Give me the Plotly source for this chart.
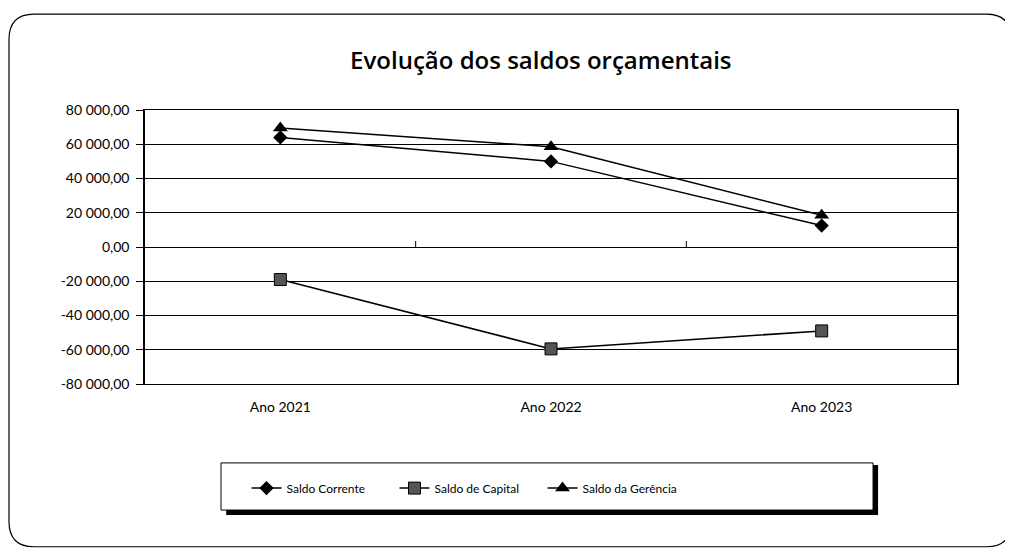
import plotly.graph_objects as go

# === Data ===
anos = ["Ano 2021", "Ano 2022", "Ano 2023"]
saldo_corrente = [64000, 50000, 12500]
saldo_capital = [-19000, -59500, -49000]
saldo_gerencia = [69500, 58500, 18500]

y_ticks = [80000, 60000, 40000, 20000, 0, -20000, -40000, -60000, -80000]
y_tick_text = ["80 000,00", "60 000,00", "40 000,00", "20 000,00", "0,00",
               "-20 000,00", "-40 000,00", "-60 000,00", "-80 000,00"]

FONT = "Lato"

fig = go.Figure()

fig.add_trace(go.Scatter(
    x=anos, y=saldo_corrente, name="Saldo Corrente",
    mode="lines+markers",
    line=dict(color="black", width=1.5),
    marker=dict(symbol="diamond", size=11, color="black")
))
fig.add_trace(go.Scatter(
    x=anos, y=saldo_capital, name="Saldo de Capital",
    mode="lines+markers",
    line=dict(color="black", width=1.5),
    marker=dict(symbol="square", size=12, color="#555555",
                line=dict(color="black", width=1))
))
fig.add_trace(go.Scatter(
    x=anos, y=saldo_gerencia, name="Saldo da Gerência",
    mode="lines+markers",
    line=dict(color="black", width=1.5),
    marker=dict(symbol="triangle-up", size=13, color="black")
))

# === Decorations: outer rounded frame, legend box with shadow, zero-line ticks ===
def rounded_rect(x0, y0, x1, y1, rx, ry):
    return (f"M {x0+rx},{y1} L {x1-rx},{y1} Q {x1},{y1} {x1},{y1-ry} "
            f"L {x1},{y0+ry} Q {x1},{y0} {x1-rx},{y0} L {x0+rx},{y0} "
            f"Q {x0},{y0} {x0},{y0+ry} L {x0},{y1-ry} Q {x0},{y1} {x0+rx},{y1} Z")

shapes = [
    dict(type="path", xref="paper", yref="paper",
         path=rounded_rect(-0.1675, -0.594, 1.067, 1.35, 0.031, 0.092),
         line=dict(color="black", width=1.2)),
    # legend shadow
    dict(type="rect", xref="paper", yref="paper",
         x0=0.1, x1=0.9028, y0=-0.478, y1=-0.296,
         fillcolor="black", line=dict(width=0), layer="below"),
    # legend box
    dict(type="rect", xref="paper", yref="paper",
         x0=0.0936, x1=0.8966, y0=-0.460, y1=-0.288,
         fillcolor="white", line=dict(color="black", width=1), layer="below"),
]
for b in [0.5, 1.5]:
    shapes.append(dict(type="line", xref="x", yref="y", ysizemode="pixel",
                       yanchor=0, x0=b, x1=b, y0=0, y1=6,
                       line=dict(color="black", width=1)))

# page body has an 8px margin, so margins are shifted to compensate
fig.update_layout(
    width=1013, height=550,
    paper_bgcolor="white", plot_bgcolor="white",
    margin=dict(l=137, r=64, t=102, b=174),
    font=dict(family=FONT, size=14, color="black"),
    title=dict(text="Evolução dos saldos orçamentais", x=0.526, xref="container",
               y=0.905, yref="container", xanchor="center", yanchor="middle",
               font=dict(family="Open Sans", size=24, color="black", weight=600)),
    showlegend=True,
    legend=dict(orientation="h", x=0.125, xanchor="left", y=-0.38, yanchor="middle",
                bgcolor="rgba(0,0,0,0)", font=dict(size=12),
                entrywidth=103, entrywidthmode="pixels"),
    shapes=shapes,
)

fig.update_xaxes(
    type="category", range=[-0.5, 2.5],
    showgrid=False, showline=True, linecolor="black", linewidth=1, mirror=True,
    ticks="", ticklabelstandoff=10, tickfont=dict(size=14)
)
fig.update_yaxes(
    range=[-80000, 80000], tickvals=y_ticks, ticktext=y_tick_text,
    showgrid=True, gridcolor="black", gridwidth=1,
    zeroline=True, zerolinecolor="black", zerolinewidth=1,
    showline=True, linecolor="black", linewidth=1.5, mirror=True,
    ticks="outside", ticklen=7, tickcolor="black", tickfont=dict(size=14),
    ticklabelstandoff=4
)

fig.write_html("out.html")
